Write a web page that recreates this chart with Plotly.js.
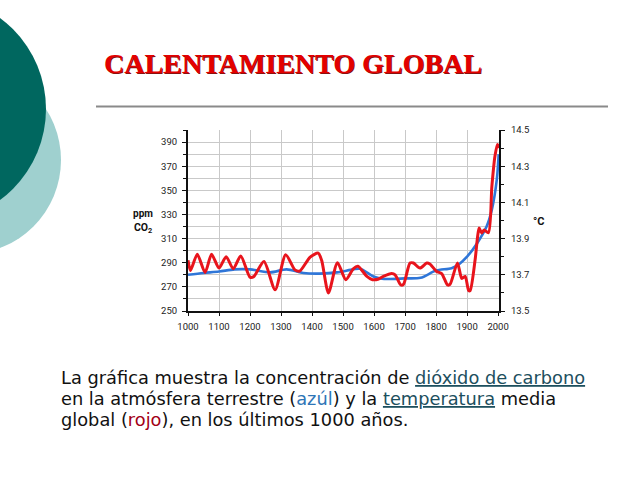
<!DOCTYPE html>
<html>
<head>
<meta charset="utf-8">
<script src="https://cdn.plot.ly/plotly-3.0.1.min.js"></script>
<style>html,body{margin:0;padding:0;background:#fff;}#chart{width:640px;height:480px;}</style>
</head>
<body>
<div id="chart"></div>
<script>
// CO2 concentration (ppm) – blue
var co2Years = [1000,1050,1100,1150,1200,1265,1318,1372,1425,1480,1533,1555,1598,1620,1650,1700,1750,1800,1850,1875,1900,1932,1963,1980,1996,2002];
var co2Values = [280,281.5,282.7,284.5,284.5,282,284.5,281.5,281,282,284.5,285,278.6,277,276.5,277,277.5,283.5,285.5,289,295,306,320,334,359,380];

// Global mean temperature (°C) – red
var tempYears = [1000,1008,1030,1055,1076,1100,1123,1146,1170,1200,1212,1245,1281,1315,1345,1360,1394,1420,1431,1453,1482,1509,1533,1548,1576,1595,1615,1630,1657,1668,1686,1695,1716,1727,1748,1770,1780,1802,1818,1837,1845,1869,1883,1894,1905,1910,1926,1934,1939,1947,1955,1969,1980,1990,1998,2003];
var tempValues = [13.78,13.724,13.813,13.713,13.813,13.737,13.80,13.733,13.804,13.687,13.69,13.773,13.617,13.811,13.727,13.72,13.798,13.82,13.78,13.60,13.767,13.673,13.733,13.747,13.693,13.673,13.677,13.691,13.707,13.70,13.644,13.647,13.765,13.765,13.737,13.765,13.76,13.718,13.707,13.644,13.647,13.765,13.68,13.691,13.613,13.613,13.783,13.912,13.958,13.931,13.947,13.933,14.189,14.356,14.42,14.40];

// Axis ticks
var xTicks = [1000,1100,1200,1300,1400,1500,1600,1700,1800,1900,2000];
var co2Ticks = [250,270,290,310,330,350,370,390];
var tempTicks = [13.5,13.7,13.9,14.1,14.3,14.5];
var tempTickText = ["13.5","13.7","13.9","14.1","14.3","14.5"];

var W = 640, H = 480;
function px(x){ return x / W; }
function py(y){ return 1 - y / H; }

var traces = [
  {x: co2Years, y: co2Values, type: 'scatter', mode: 'lines', yaxis: 'y',
   line: {color: '#2f76d8', width: 2.6, shape: 'spline', smoothing: 0.8}, hoverinfo: 'skip'},
  {x: tempYears, y: tempValues, type: 'scatter', mode: 'lines', yaxis: 'y2',
   line: {color: '#e8141c', width: 3, shape: 'spline', smoothing: 0.7}, hoverinfo: 'skip'}
];

var tickFont = {family: 'Roboto, sans-serif', size: 9.5, color: '#222'};
var gridC = '#c9c9c9';

var bodyFont = {family: '"DejaVu Sans", Verdana, sans-serif', size: 17.8, color: '#111'};
var ul = 'text-decoration:underline;';

var layout = {
  width: W, height: H, autosize: false,
  margin: {l: 0, r: 0, t: 0, b: 0},
  paper_bgcolor: '#fff', plot_bgcolor: '#fff',
  showlegend: false,
  xaxis: {
    domain: [px(188), px(499)], range: [1000, 2003],
    tickvals: xTicks, tickfont: tickFont,
    showgrid: true, gridcolor: gridC, gridwidth: 1,
    showline: true, linecolor: '#111', linewidth: 2,
    ticks: 'outside', ticklen: 3, tickcolor: '#111', ticklabelstandoff: 3,
    zeroline: false, fixedrange: true
  },
  yaxis: {
    domain: [py(311), py(130)], range: [250, 400],
    tickvals: co2Ticks, tickfont: tickFont,
    showgrid: true, gridcolor: gridC, gridwidth: 1,
    minor: {dtick: 10, tick0: 250, showgrid: true, gridcolor: gridC, gridwidth: 1, ticks: 'outside', ticklen: 3, tickcolor: '#111'},
    showline: true, linecolor: '#111', linewidth: 2,
    ticks: 'outside', ticklen: 4, tickcolor: '#111', ticklabelstandoff: 3,
    zeroline: false, fixedrange: true
  },
  yaxis2: {
    overlaying: 'y', side: 'right', anchor: 'x',
    range: [13.5, 14.5],
    tickvals: tempTicks, ticktext: tempTickText, tickfont: tickFont,
    showgrid: false,
    minor: {dtick: 0.1, tick0: 13.5, showgrid: false, ticks: 'outside', ticklen: 3, tickcolor: '#111'},
    showline: true, linecolor: '#111', linewidth: 2,
    ticks: 'outside', ticklen: 4, tickcolor: '#111', ticklabelstandoff: 4,
    zeroline: false, fixedrange: true
  },
  shapes: [
    {type: 'circle', xref: 'paper', yref: 'paper', layer: 'below',
     x0: px(-127), x1: px(61), y0: py(254), y1: py(66),
     fillcolor: '#9fd0cf', line: {width: 0}},
    {type: 'circle', xref: 'paper', yref: 'paper', layer: 'below',
     x0: px(-180), x1: px(46), y0: py(222), y1: py(-4),
     fillcolor: '#00675f', line: {width: 0}},
    {type: 'line', xref: 'paper', yref: 'paper',
     x0: px(96), x1: px(608), y0: py(106.5), y1: py(106.5),
     line: {color: '#8a8a8a', width: 2}}
  ],
  annotations: [
    {text: 'CALENTAMIENTO GLOBAL', xref: 'paper', yref: 'paper',
     x: px(293), y: py(64), xanchor: 'center', yanchor: 'middle', showarrow: false,
     font: {family: '"Liberation Serif", "Times New Roman", serif', size: 28, weight: 700, color: '#e30000',
            shadow: '1px 1px 0px #8a1010'}},
    {text: 'ppm', xref: 'paper', yref: 'paper', x: px(143), y: py(213),
     xanchor: 'center', yanchor: 'middle', showarrow: false,
     font: {family: 'Roboto, sans-serif', size: 10, weight: 700, color: '#111'}},
    {text: 'CO<sub>2</sub>', xref: 'paper', yref: 'paper', x: px(143), y: py(228),
     xanchor: 'center', yanchor: 'middle', showarrow: false,
     font: {family: 'Roboto, sans-serif', size: 10.5, weight: 700, color: '#111'}},
    {text: '°C', xref: 'paper', yref: 'paper', x: px(538), y: py(221),
     xanchor: 'center', yanchor: 'middle', showarrow: false,
     font: {family: 'Roboto, sans-serif', size: 11, weight: 700, color: '#111'}},
    {text: 'La gráfica muestra la concentración de <span style="' + ul + 'fill:#1d4f5e">dióxido de carbono</span>',
     xref: 'paper', yref: 'paper', x: px(59), y: py(377), xanchor: 'left', yanchor: 'middle',
     showarrow: false, align: 'left', font: bodyFont},
    {text: 'en la atmósfera terrestre (<span style="fill:#2e75b6">azúl</span>) y la <span style="' + ul + 'fill:#1d4f5e">temperatura</span> media',
     xref: 'paper', yref: 'paper', x: px(59), y: py(398), xanchor: 'left', yanchor: 'middle',
     showarrow: false, align: 'left', font: bodyFont},
    {text: 'global (<span style="fill:#a30016">rojo</span>), en los últimos 1000 años.',
     xref: 'paper', yref: 'paper', x: px(59), y: py(419), xanchor: 'left', yanchor: 'middle',
     showarrow: false, align: 'left', font: bodyFont}
  ]
};

Plotly.newPlot('chart', traces, layout, {staticPlot: true, displayModeBar: false});
</script>
</body>
</html>
